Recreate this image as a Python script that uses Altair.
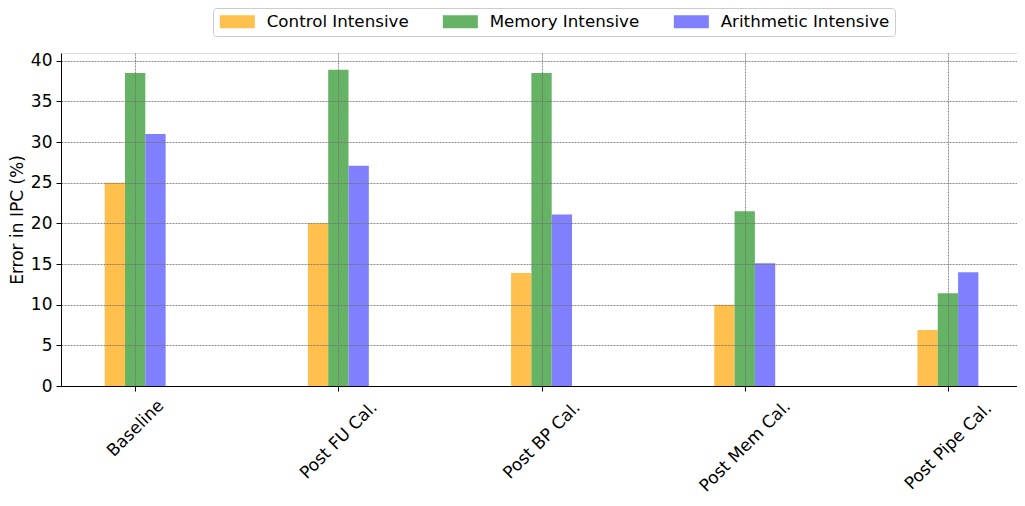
import altair as alt
import pandas as pd

categories = ["Baseline", "Post FU Cal.", "Post BP Cal.", "Post Mem Cal.", "Post Pipe Cal."]
series = ["Control Intensive", "Memory Intensive", "Arithmetic Intensive"]
control = [25.0, 20.0, 13.9, 10.0, 6.9]
memory = [38.5, 38.9, 38.5, 21.5, 11.4]
arith = [31.0, 27.1, 21.1, 15.1, 14.0]
colors = ["#FFC04D", "#66B366", "#8080FF"]
y_ticks = [0, 5, 10, 15, 20, 25, 30, 35, 40]

rows = []
for si, (name, vals) in enumerate(zip(series, [control, memory, arith])):
    for ci, (cat, v) in enumerate(zip(categories, vals)):
        rows.append({"category": cat, "idx": ci, "series": name, "sidx": si, "value": v})
df = pd.DataFrame(rows)

bar_w = 0.1
label_expr = "[" + ",".join("'" + c + "'" for c in categories) + "][datum.value]"
FONT = "DejaVu Sans"
FS = 17
LFS = 16.7

chart = alt.Chart(df).transform_calculate(
    x0=f"datum.idx + (datum.sidx - 1) * {bar_w} - {bar_w / 2}",
    x1=f"datum.idx + (datum.sidx - 1) * {bar_w} + {bar_w / 2}",
).mark_bar().encode(
    x=alt.X(
        "x0:Q",
        scale=alt.Scale(domain=[-0.365, 4.34], nice=False, zero=False),
        axis=alt.Axis(
            values=list(range(len(categories))),
            labelExpr=label_expr,
            title=None,
            labelAngle=-45,
            labelAlign="center",
            labelBaseline="middle",
            labelPadding={
                "condition": [
                    {"test": "datum.value == 0", "value": 37},
                    {"test": "datum.value >= 3", "value": 55},
                ],
                "value": 49,
            },
            labelFlush=False,
            labelOverlap=False,
            labelFont=FONT,
            labelFontSize=FS,
            labelColor="black",
            tickSize=5,
            tickColor="black",
            domainColor="black",
            grid=True,
            gridColor="#707070",
            gridDash=[2, 1],
            gridWidth=0.8,
            zindex=1,
        ),
    ),
    x2="x1:Q",
    y=alt.Y(
        "value:Q",
        scale=alt.Scale(domain=[0, 40.95], nice=False),
        axis=alt.Axis(
            values=y_ticks,
            title="Error in IPC (%)",
            titleFont=FONT,
            titleFontSize=FS,
            titleFontWeight="normal",
            titleColor="black",
            titlePadding=4,
            labelFont=FONT,
            labelFontSize=FS,
            labelColor="black",
            labelPadding=4,
            tickSize=5,
            tickColor="black",
            domainColor="black",
            grid=True,
            gridColor="#707070",
            gridDash=[2, 1],
            gridWidth=0.8,
            zindex=1,
        ),
    ),
    y2=alt.datum(0),
    color=alt.Color(
        "series:N",
        scale=alt.Scale(domain=series, range=colors),
        legend=alt.Legend(
            title=None,
            orient="none",
            legendX=152,
            legendY=-45,
            direction="horizontal",
            columns=3,
            symbolType="M-1,-1H4.385V1H-1Z",
            symbolSize=169,
            symbolStrokeWidth=0,
            symbolOpacity=1,
            labelOffset=32,
            columnPadding=32,
            padding=5,
            strokeColor="#cccccc",
            cornerRadius=3,
            fillColor="white",
            labelFont=FONT,
            labelFontSize=LFS,
            labelColor="black",
            labelLimit=300,
        ),
    ),
).properties(
    width=956,
    height=333,
    autosize=alt.AutoSizeParams(type="none"),
    padding={"left": 53, "top": 45, "right": 0, "bottom": 112},
).configure_view(
    stroke="black",
    strokeWidth=1,
).configure(
    font=FONT,
)

chart.save("out.html", embed_options={"renderer": "svg", "actions": False})
